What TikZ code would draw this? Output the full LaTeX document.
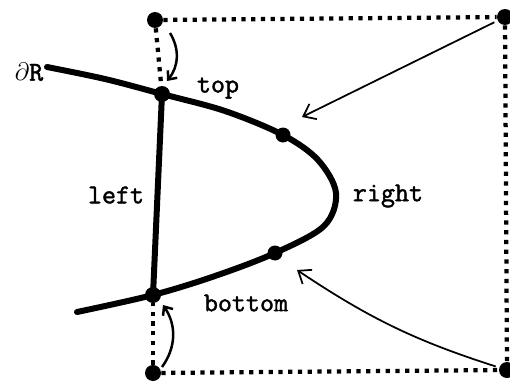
\documentclass[tikz,border=0pt]{standalone}
\usepackage{fontspec}
\newfontfamily\lblfont{Latin Modern Mono}[FakeBold=1.6]
\usetikzlibrary{arrows.meta}
\tikzset{
  bdline/.style={line width=0.12cm, line cap=round, line join=round},
  dotline/.style={line width=0.085cm, dash pattern=on 0.085cm off 0.11cm},
  bigdot/.style={circle, fill, inner sep=0pt, minimum size=#1},
  bigdot/.default=0.32cm,
  longarr/.style={line width=0.035cm, -{Straight Barb[length=0.22cm, width=0.34cm, line width=0.035cm]}},
  smallarr/.style={line width=0.05cm, -{Straight Barb[length=0.14cm, width=0.24cm, line width=0.05cm]}},
  lbl/.style={font=\lblfont\fontsize{15.5}{18}\selectfont, inner sep=0pt},
}
\begin{document}
\begin{tikzpicture}[x=0.02cm, y=-0.02cm]
  \useasboundingbox (0,0) rectangle (510,382);
  % points of the boundary
  \coordinate (jt) at (162,94);
  \coordinate (jb) at (153,295);
  \coordinate (pu) at (283,135);
  \coordinate (pl) at (275,253);

  \draw[bdline] plot[smooth, tension=0.55] coordinates {(47,67) (105,79) (jt) (225,111) (pu)
    (318,160) (336,193) (324,226) (pl) (215,276) (jb) (77,312)};
  \draw[bdline] (jt) -- (jb);

  \node[bigdot] (tl) at (155,20) {};
  \node[bigdot] (tr) at (505,17) {};
  \node[bigdot] (bl) at (153,373) {};
  \node[bigdot] (br) at (507,370) {};
  \node[bigdot] (top) at (jt) {};
  \node[bigdot] (bot) at (jb) {};
  \node[bigdot=0.3cm] (up) at (pu) {};
  \node[bigdot=0.3cm] (lo) at (pl) {};

  \draw[dotline] (tl) -- (tr);
  \draw[dotline] (tl) -- (top);
  \draw[dotline] (bl) -- (bot);
  \draw[dotline] (bl) -- (br);
  \draw[dotline] (tr) -- (br);

  \coordinate (ua) at (302,117);
  \coordinate (la) at (297,270);
  \draw[longarr, shorten <=2pt] (tr) -- (ua);
  \draw[longarr, shorten <=2pt] (br) to[bend left=8] (la);

  \coordinate (s1) at (170,33);
  \coordinate (e1) at (167,81);
  \coordinate (s2) at (162,367);
  \coordinate (e2) at (163,305);
  \draw[smallarr] (s1) to[bend left=35] (e1);
  \draw[smallarr] (s2) to[bend right=35] (e2);

  \node[lbl] (dR) at (29,72) {$\partial$R};
  \node[lbl] (ltop) at (218,88) {top};
  \node[lbl] (lleft) at (116,195) {left};
  \node[lbl] (lright) at (388,196) {right};
  \node[lbl] (lbot) at (246,303) {bottom};
\end{tikzpicture}
\end{document}
